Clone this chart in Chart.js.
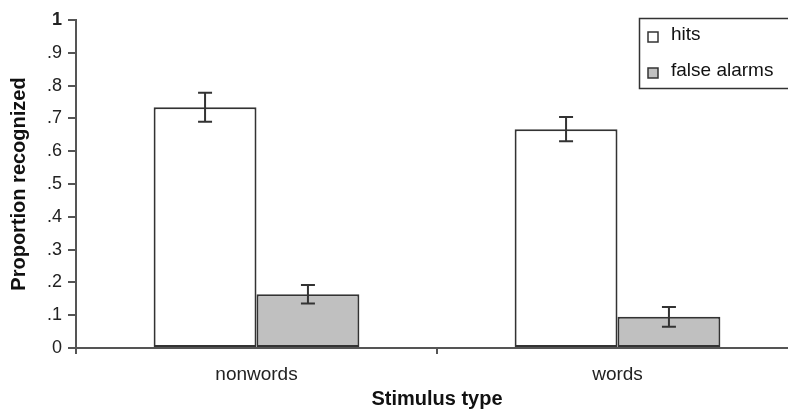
<!DOCTYPE html>
<html>
<head>
<meta charset="utf-8">
<script src="https://cdn.jsdelivr.net/npm/chart.js@4.4.1/dist/chart.umd.min.js"></script>
<style>
  html, body { margin: 0; padding: 0; background: #fff; overflow: hidden; }
  #wrap { width: 800px; height: 411px; }
</style>
</head>
<body>
<div id="wrap"><canvas id="chart" width="800" height="411"></canvas></div>
<script>
// data
const categories = ['nonwords', 'words'];
const hits = [0.734, 0.667];
const hitsErr = [0.044, 0.037];
const falseAlarms = [0.164, 0.095];
const falseAlarmsErr = [0.028, 0.030];
const yTickLabels = ['0', '.1', '.2', '.3', '.4', '.5', '.6', '.7', '.8', '.9', '1'];

const FONT = 'Liberation Sans, Arial, sans-serif';
const AXIS = '#555';

// error bars drawn from the y scale
const errorBars = {
    id: 'errorBars',
    afterDatasetsDraw(chart) {
        const ctx = chart.ctx;
        const y = chart.scales.y;
        ctx.save();
        ctx.strokeStyle = '#333';
        ctx.lineWidth = 2;
        chart.data.datasets.forEach((ds, i) => {
            const meta = chart.getDatasetMeta(i);
            meta.data.forEach((bar, j) => {
                const v = ds.data[j], e = ds.err[j];
                const top = y.getPixelForValue(v + e);
                const bot = y.getPixelForValue(v - e);
                const x = bar.x;
                ctx.beginPath();
                ctx.moveTo(x, top); ctx.lineTo(x, bot);
                ctx.moveTo(x - 7, top); ctx.lineTo(x + 7, top);
                ctx.moveTo(x - 7, bot); ctx.lineTo(x + 7, bot);
                ctx.stroke();
            });
        });
        ctx.restore();
    }
};

// legend box in the top right corner
const boxLegend = {
    id: 'boxLegend',
    afterDraw(chart) {
        const ctx = chart.ctx;
        ctx.save();
        ctx.strokeStyle = '#333';
        ctx.lineWidth = 1.5;
        ctx.strokeRect(639.5, 18.5, 160, 70);
        ctx.font = '19px ' + FONT;
        ctx.textBaseline = 'middle';
        chart.data.datasets.forEach((ds, i) => {
            const cy = 37 + i * 36;
            ctx.fillStyle = ds.backgroundColor;
            ctx.fillRect(648, cy - 5, 10, 10);
            ctx.strokeStyle = '#333';
            ctx.lineWidth = 1.5;
            ctx.strokeRect(648, cy - 5, 10, 10);
            ctx.fillStyle = '#111';
            ctx.fillText(ds.label, 671, cy - 2);
        });
        ctx.restore();
    }
};

new Chart(document.getElementById('chart'), {
    type: 'bar',
    data: {
        labels: categories,
        datasets: [{
            label: 'hits',
            data: hits,
            err: hitsErr,
            backgroundColor: '#ffffff',
            borderColor: '#333',
            borderWidth: 2,
            borderSkipped: false
        }, {
            label: 'false alarms',
            data: falseAlarms,
            err: falseAlarmsErr,
            backgroundColor: '#c0c0c0',
            borderColor: '#333',
            borderWidth: 2,
            borderSkipped: false
        }]
    },
    options: {
        responsive: false,
        animation: false,
        layout: { padding: { top: 20, left: 0, right: 2, bottom: 0 } },
        plugins: {
            legend: { display: false },
            tooltip: { enabled: false }
        },
        datasets: {
            bar: { barPercentage: 1, categoryPercentage: 0.57 }
        },
        scales: {
            x: {
                grid: { offset: true, drawOnChartArea: false, tickLength: 6, color: AXIS, lineWidth: 2 },
                border: { color: AXIS, width: 2 },
                ticks: { color: '#222', font: { family: FONT, size: 19 }, padding: 9 },
                title: { display: true, text: 'Stimulus type', color: '#111',
                         font: { family: FONT, size: 20, weight: 'bold' }, padding: { top: 0, bottom: 0 } },
                afterFit(scale) { scale.height = 63; }
            },
            y: {
                min: 0,
                max: 1,
                ticks: {
                    stepSize: 0.1,
                    color: '#222',
                    font: (c) => ({ family: FONT, size: 18, weight: c.index === 10 ? 'bold' : 'normal' }),
                    padding: 6,
                    callback: (v, i) => yTickLabels[i]
                },
                grid: { drawOnChartArea: false, tickLength: 8, color: AXIS, lineWidth: 2 },
                border: { color: AXIS, width: 2 },
                title: { display: true, text: 'Proportion recognized', color: '#111',
                         font: { family: FONT, size: 20, weight: 'bold' }, padding: { top: 7, bottom: 0 } },
                afterFit(scale) { scale.width = 76; }
            }
        }
    },
    plugins: [errorBars, boxLegend]
});
</script>
</body>
</html>
